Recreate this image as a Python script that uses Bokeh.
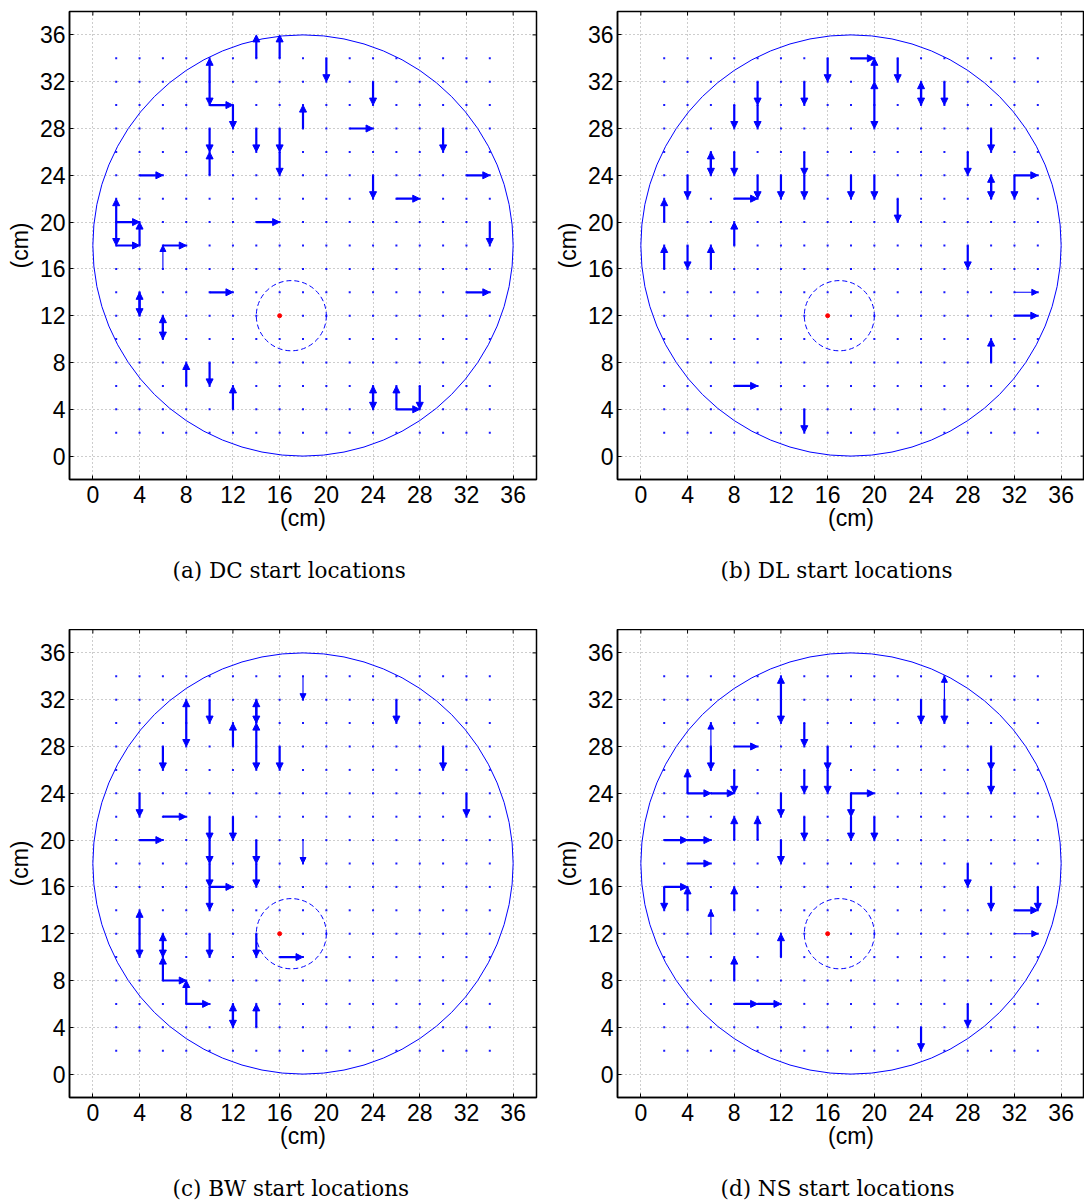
from bokeh.plotting import figure
from bokeh.models import Range1d, FixedTicker, Arrow, NormalHead, ColumnDataSource
from bokeh.layouts import gridplot
from bokeh.embed import file_html
from bokeh.resources import INLINE

# Axis ticks (cm) and the 2 cm lattice of candidate start positions
TICKS = [0, 4, 8, 12, 16, 20, 24, 28, 32, 36]
LATTICE = [2, 4, 6, 8, 10, 12, 14, 16, 18, 20, 22, 24, 26, 28, 30, 32, 34]

# Arena (solid circle), target zone (dashed circle) and target point
ARENA_CENTER = (18, 18)
ARENA_RADIUS = 18
ZONE_CENTER = (17, 12)
ZONE_RADIUS = 3
TARGET = (16, 12)

# Moves for each condition: (x, y, dx, dy, count), all in cm
DC_MOVES = [
    (14, 34, 0, 2, 2), (16, 34, 0, 2, 2), (10, 32, 0, 2, 2), (10, 32, 0, -2, 2),
    (20, 34, 0, -2, 2), (24, 32, 0, -2, 2), (10, 30, 2, 0, 2), (12, 30, 0, -2, 2),
    (18, 28, 0, 2, 2), (22, 28, 2, 0, 2), (30, 28, 0, -2, 2), (10, 28, 0, -2, 2),
    (10, 24, 0, 2, 2), (14, 28, 0, -2, 2), (16, 28, 0, -2, 2), (16, 26, 0, -2, 2),
    (4, 24, 2, 0, 2), (32, 24, 2, 0, 2), (24, 24, 0, -2, 2), (26, 22, 2, 0, 2),
    (14, 20, 2, 0, 2), (34, 20, 0, -2, 2), (2, 20, 0, 2, 2), (2, 20, 0, -2, 2),
    (2, 20, 2, 0, 2), (2, 18, 2, 0, 2), (4, 18, 0, 2, 2), (6, 18, 2, 0, 2),
    (6, 16, 0, 2, 1), (10, 14, 2, 0, 2), (32, 14, 2, 0, 2), (4, 12, 0, 2, 2),
    (4, 14, 0, -2, 2), (6, 10, 0, 2, 2), (6, 12, 0, -2, 2), (8, 6, 0, 2, 2),
    (10, 8, 0, -2, 2), (12, 4, 0, 2, 2), (24, 4, 0, 2, 2), (24, 6, 0, -2, 2),
    (26, 4, 0, 2, 2), (26, 4, 2, 0, 2), (28, 6, 0, -2, 2),
]

DL_MOVES = [
    (16, 34, 0, -2, 2), (18, 34, 2, 0, 2), (20, 32, 0, 2, 2), (20, 30, 0, 2, 2),
    (20, 30, 0, -2, 2), (22, 34, 0, -2, 2), (24, 30, 0, 2, 2), (24, 32, 0, -2, 2),
    (26, 32, 0, -2, 2), (10, 32, 0, -2, 2), (10, 30, 0, -2, 2), (14, 32, 0, -2, 2),
    (8, 30, 0, -2, 2), (30, 28, 0, -2, 2), (6, 24, 0, 2, 2), (6, 26, 0, -2, 2),
    (8, 26, 0, -2, 2), (14, 26, 0, -2, 2), (14, 24, 0, -2, 2), (28, 26, 0, -2, 2),
    (4, 24, 0, -2, 2), (10, 24, 0, -2, 2), (8, 22, 2, 0, 2), (12, 24, 0, -2, 2),
    (18, 24, 0, -2, 2), (20, 24, 0, -2, 2), (30, 22, 0, 2, 2), (30, 24, 0, -2, 2),
    (32, 24, 0, -2, 2), (32, 24, 2, 0, 2), (22, 22, 0, -2, 2), (2, 20, 0, 2, 2),
    (8, 18, 0, 2, 2), (2, 16, 0, 2, 2), (4, 18, 0, -2, 2), (6, 16, 0, 2, 2),
    (28, 18, 0, -2, 2), (32, 14, 2, 0, 1), (32, 12, 2, 0, 2), (30, 8, 0, 2, 2),
    (8, 6, 2, 0, 2), (14, 4, 0, -2, 2),
]

BW_MOVES = [
    (18, 34, 0, -2, 1), (8, 30, 0, 2, 2), (8, 30, 0, -2, 2), (10, 32, 0, -2, 2),
    (12, 28, 0, 2, 2), (14, 30, 0, 2, 2), (14, 32, 0, -2, 2), (14, 28, 0, 2, 2),
    (14, 28, 0, -2, 2), (26, 32, 0, -2, 2), (6, 28, 0, -2, 2), (16, 28, 0, -2, 2),
    (30, 28, 0, -2, 2), (4, 24, 0, -2, 2), (32, 24, 0, -2, 2), (6, 22, 2, 0, 2),
    (4, 20, 2, 0, 2), (10, 22, 0, -2, 2), (10, 20, 0, -2, 2), (10, 18, 0, -2, 2),
    (10, 16, 0, -2, 2), (10, 16, 2, 0, 2), (12, 22, 0, -2, 2), (14, 20, 0, -2, 2),
    (14, 18, 0, -2, 2), (18, 20, 0, -2, 1), (4, 12, 0, 2, 2), (4, 12, 0, -2, 2),
    (6, 10, 0, 2, 2), (6, 12, 0, -2, 2), (6, 8, 0, 2, 2), (6, 8, 2, 0, 2),
    (8, 6, 0, 2, 2), (8, 6, 2, 0, 2), (10, 12, 0, -2, 2), (14, 12, 0, -2, 2),
    (16, 10, 2, 0, 2), (12, 4, 0, 2, 2), (12, 6, 0, -2, 2), (14, 4, 0, 2, 2),
]

NS_MOVES = [
    (12, 32, 0, 2, 2), (12, 32, 0, -2, 2), (24, 32, 0, -2, 2), (26, 32, 0, 2, 1),
    (26, 32, 0, -2, 2), (14, 30, 0, -2, 2), (6, 28, 0, 2, 1), (6, 28, 0, -2, 2),
    (8, 28, 2, 0, 2), (16, 28, 0, -2, 2), (16, 26, 0, -2, 2), (14, 26, 0, -2, 2),
    (30, 28, 0, -2, 2), (30, 26, 0, -2, 2), (4, 24, 0, 2, 2), (4, 24, 2, 0, 2),
    (6, 24, 2, 0, 2), (8, 26, 0, -2, 2), (12, 24, 0, -2, 2), (18, 24, 0, -2, 2),
    (18, 22, 0, -2, 2), (18, 24, 2, 0, 2), (8, 20, 0, 2, 2), (10, 20, 0, 2, 2),
    (14, 22, 0, -2, 2), (20, 22, 0, -2, 2), (2, 20, 2, 0, 2), (4, 20, 2, 0, 2),
    (4, 18, 2, 0, 2), (12, 20, 0, -2, 2), (28, 18, 0, -2, 2), (2, 16, 2, 0, 2),
    (2, 16, 0, -2, 2), (4, 14, 0, 2, 2), (8, 14, 0, 2, 2), (6, 12, 0, 2, 1),
    (30, 16, 0, -2, 2), (32, 14, 2, 0, 2), (34, 16, 0, -2, 2), (32, 12, 2, 0, 1),
    (12, 10, 0, 2, 2), (8, 8, 0, 2, 2), (8, 6, 2, 0, 2), (10, 6, 2, 0, 2),
    (28, 6, 0, -2, 2), (24, 4, 0, -2, 2),
]

CAPTIONS = ["(a) DC start locations", "(b) DL start locations",
            "(c) BW start locations", "(d) NS start locations"]

BLUE = "#0000ff"
SANS = "Liberation Sans"
SERIF = "DejaVu Serif"
FRAME_W, FRAME_H = 467, 468
LO, HI = -2, 38


def draw_moves(p, moves):
    # heavier and lighter arrows are drawn as two annotation layers
    for count, lw, head in ((1, 1.1, 6), (2, 2.2, 7)):
        sel = [m for m in moves if m[4] == count]
        if not sel:
            continue
        src = ColumnDataSource(dict(
            x0=[m[0] for m in sel], y0=[m[1] for m in sel],
            x1=[m[0] + m[2] for m in sel], y1=[m[1] + m[3] for m in sel],
        ))
        p.add_layout(Arrow(
            end=NormalHead(size=head, fill_color=BLUE, line_color=BLUE, line_width=1),
            x_start="x0", y_start="y0", x_end="x1", y_end="y1",
            source=src, line_color=BLUE, line_width=lw,
        ))


def panel(moves, caption, top, bottom, right):
    p = figure(frame_width=FRAME_W, frame_height=FRAME_H,
               x_range=Range1d(LO, HI), y_range=Range1d(LO, HI),
               min_border_left=69, min_border_right=right,
               min_border_top=top, min_border_bottom=bottom,
               output_backend="svg", toolbar_location=None,
               title=caption, title_location="below")
    p.background_fill_color = "white"
    p.border_fill_color = "white"
    p.outline_line_color = "black"
    p.outline_line_width = 1.5

    p.title.align = "left"
    p.title.offset = 103
    p.title.standoff = 45
    p.title.vertical_align = "bottom"
    p.title.text_font = SERIF
    p.title.text_font_size = "21.5px"
    p.title.text_font_style = "normal"
    p.title.text_color = "black"

    for ax in (p.xaxis[0], p.yaxis[0]):
        ax.ticker = FixedTicker(ticks=TICKS)
        ax.minor_tick_line_color = None
        ax.major_tick_in = 4
        ax.major_tick_out = 0
        ax.major_tick_line_color = "black"
        ax.axis_line_color = "black"
        ax.axis_line_width = 1.5
        ax.major_label_text_font = SANS
        ax.major_label_text_font_size = "23px"
        ax.major_label_text_color = "black"
        ax.axis_label = "(cm)"
        ax.axis_label_text_font = SANS
        ax.axis_label_text_font_size = "23px"
        ax.axis_label_text_font_style = "normal"
        ax.axis_label_text_color = "black"
    p.xaxis[0].major_label_standoff = 6
    p.xaxis[0].axis_label_standoff = -1
    p.yaxis[0].major_label_standoff = 4
    p.yaxis[0].axis_label_standoff = 4

    for g in (p.xgrid[0], p.ygrid[0]):
        g.ticker = FixedTicker(ticks=TICKS)
        g.grid_line_color = "#9a9a9a"
        g.grid_line_dash = "1 3"
        g.grid_line_width = 1

    # inward ticks on the top and right edges of the box
    tl_x = 4 * (HI - LO) / FRAME_W
    tl_y = 4 * (HI - LO) / FRAME_H
    n = len(TICKS)
    p.segment(x0=TICKS, y0=[HI] * n, x1=TICKS, y1=[HI - tl_y] * n,
              line_color="black", line_width=1)
    p.segment(x0=[HI] * n, y0=TICKS, x1=[HI - tl_x] * n, y1=TICKS,
              line_color="black", line_width=1)

    # lattice of start positions
    lx = [x for x in LATTICE for _ in LATTICE]
    ly = [y for _ in LATTICE for y in LATTICE]
    p.scatter(lx, ly, marker="square", size=2, fill_color=BLUE,
              line_color=None, fill_alpha=0.9)

    # arena and target zone
    p.ellipse(x=[ARENA_CENTER[0]], y=[ARENA_CENTER[1]],
              width=[2 * ARENA_RADIUS], height=[2 * ARENA_RADIUS],
              fill_color=None, line_color=BLUE, line_width=1)
    p.ellipse(x=[ZONE_CENTER[0]], y=[ZONE_CENTER[1]],
              width=[2 * ZONE_RADIUS], height=[2 * ZONE_RADIUS],
              fill_color=None, line_color=BLUE, line_width=1, line_dash="5 3")
    p.scatter([TARGET[0]], [TARGET[1]], marker="circle", size=4,
              fill_color="red", line_color="red")

    draw_moves(p, moves)
    return p


pa = panel(DC_MOVES, CAPTIONS[0], 11, 150, 12)
pb = panel(DL_MOVES, CAPTIONS[1], 11, 150, 0)
pc = panel(BW_MOVES, CAPTIONS[2], 0, 106, 12)
pd = panel(NS_MOVES, CAPTIONS[3], 0, 106, 0)

grid = gridplot([[pa, pb], [pc, pd]], toolbar_location=None)

with open("out.html", "w") as f:
    f.write(file_html(grid, INLINE))
